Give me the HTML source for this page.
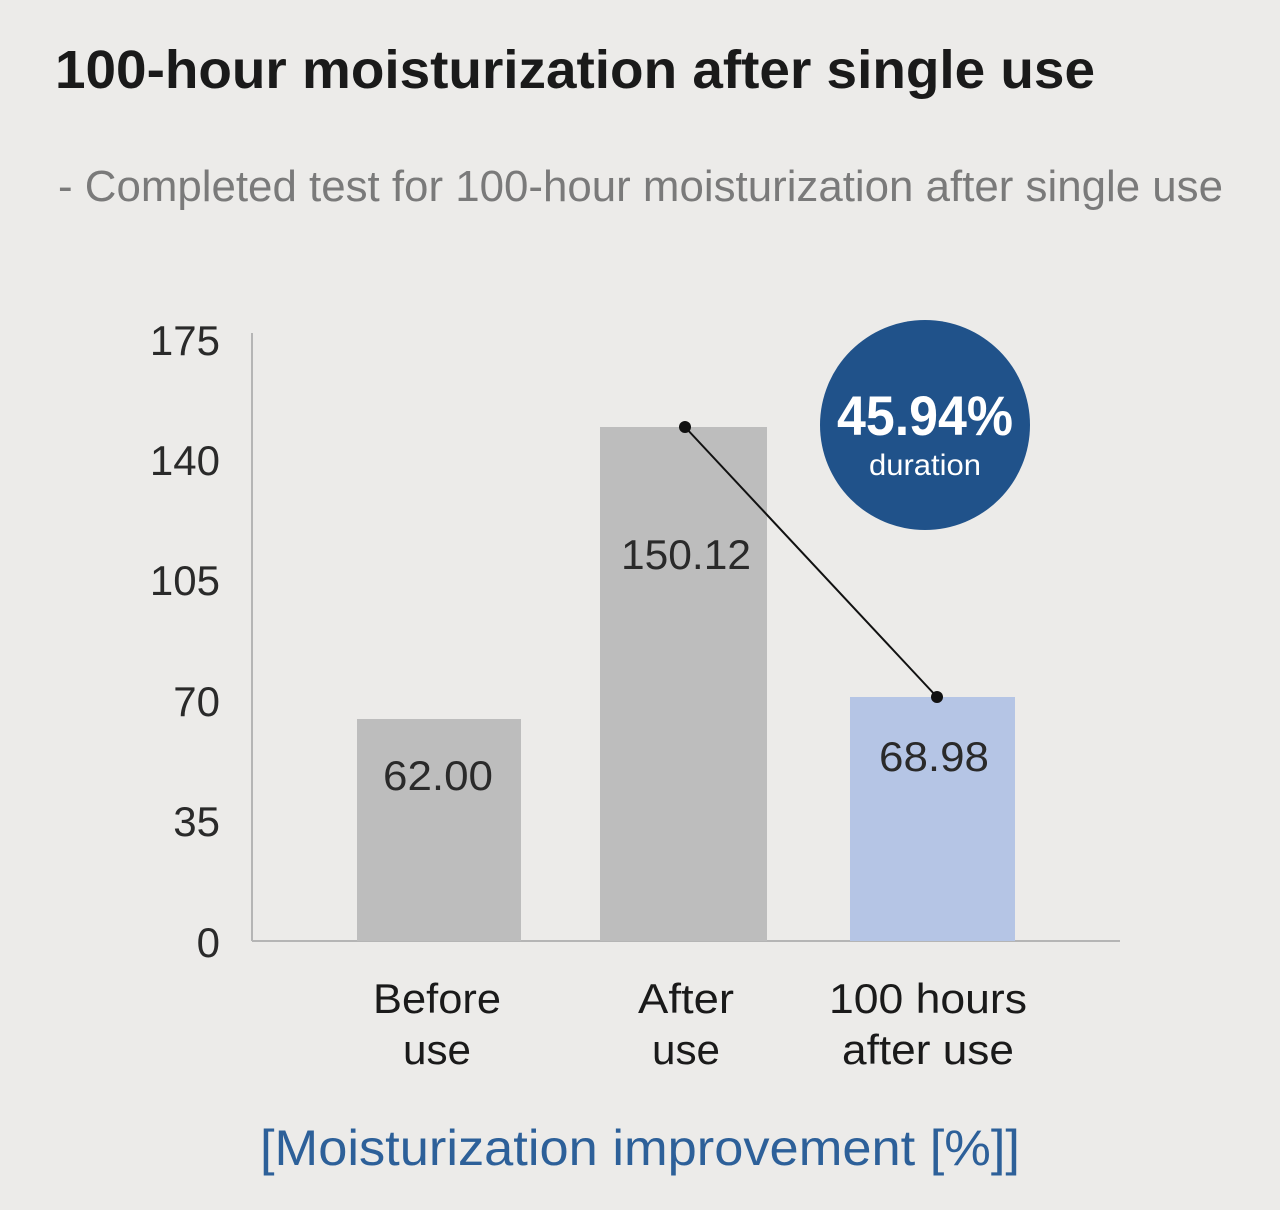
<!DOCTYPE html>
<html><head><meta charset="utf-8"><style>
html,body{margin:0;padding:0;background:#ecebe9;}
svg{display:block}
text{font-family:"Liberation Sans",sans-serif;}
</style></head><body>
<svg width="1280" height="1210" viewBox="0 0 1280 1210" xmlns="http://www.w3.org/2000/svg">
<rect width="1280" height="1210" fill="#ecebe9"/>
<text x="55" y="88" font-size="54" font-weight="bold" fill="#1a1a1a" textLength="1040" lengthAdjust="spacingAndGlyphs">100-hour moisturization after single use</text>
<text x="58" y="201" font-size="44" fill="#7a7a7a" textLength="1165" lengthAdjust="spacingAndGlyphs">- Completed test for 100-hour moisturization after single use</text>
<!-- axes -->
<line x1="252" y1="333" x2="252" y2="941" stroke="#b5b5b5" stroke-width="2"/>
<line x1="252" y1="941" x2="1120" y2="941" stroke="#b5b5b5" stroke-width="2"/>
<g font-size="42" fill="#2a2a2a" text-anchor="end">
<text x="220" y="355">175</text>
<text x="220" y="475">140</text>
<text x="220" y="595">105</text>
<text x="220" y="716">70</text>
<text x="220" y="836">35</text>
<text x="220" y="957">0</text>
</g>
<!-- bars -->
<rect x="357" y="719" width="164" height="222" fill="#bdbdbd"/>
<rect x="600" y="427" width="167" height="514" fill="#bdbdbd"/>
<rect x="850" y="697" width="165" height="244" fill="#b5c5e5"/>
<g font-size="42" fill="#2a2a2a" text-anchor="middle">
<text x="438" y="790" textLength="110" lengthAdjust="spacingAndGlyphs">62.00</text>
<text x="686" y="569" textLength="130" lengthAdjust="spacingAndGlyphs">150.12</text>
<text x="934" y="771" textLength="110" lengthAdjust="spacingAndGlyphs">68.98</text>
</g>
<line x1="685" y1="427" x2="937" y2="697" stroke="#111" stroke-width="2"/>
<circle cx="685" cy="427" r="6" fill="#111"/>
<circle cx="937" cy="697" r="6" fill="#111"/>
<circle cx="925" cy="425" r="105" fill="#20528a"/>
<text x="925" y="435" font-size="56" font-weight="bold" fill="#fff" text-anchor="middle" textLength="176" lengthAdjust="spacingAndGlyphs">45.94%</text>
<text x="925" y="475" font-size="30" fill="#fff" text-anchor="middle" textLength="112" lengthAdjust="spacingAndGlyphs">duration</text>
<g font-size="42" fill="#1a1a1a" text-anchor="middle">
<text x="437" y="1013" textLength="128" lengthAdjust="spacingAndGlyphs">Before</text>
<text x="437" y="1064" textLength="68" lengthAdjust="spacingAndGlyphs">use</text>
<text x="686" y="1013" textLength="96" lengthAdjust="spacingAndGlyphs">After</text>
<text x="686" y="1064" textLength="68" lengthAdjust="spacingAndGlyphs">use</text>
<text x="928" y="1013" textLength="198" lengthAdjust="spacingAndGlyphs">100 hours</text>
<text x="928" y="1064" textLength="172" lengthAdjust="spacingAndGlyphs">after use</text>
</g>
<text x="640" y="1165" font-size="50" fill="#2d6099" text-anchor="middle" textLength="760" lengthAdjust="spacingAndGlyphs">[Moisturization improvement [%]]</text>
</svg>
</body></html>
